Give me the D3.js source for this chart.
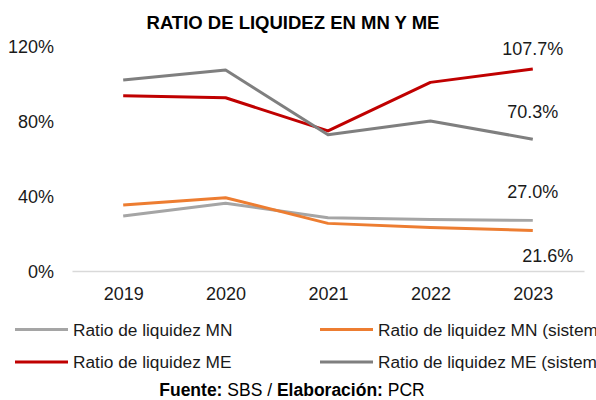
<!DOCTYPE html>
<html>
<head>
<meta charset="utf-8">
<script src="https://cdn.jsdelivr.net/npm/d3@7"></script>
<style>
  html, body { margin: 0; padding: 0; background: #fff; }
  svg { display: block; font-family: "Liberation Sans", Arial, sans-serif; }
</style>
</head>
<body>
<svg id="chart" width="596" height="400"></svg>
<script>
const years = ["2019", "2020", "2021", "2022", "2023"];
const mn = [29.3, 36.1, 28.4, 27.5, 27.0];
const mnSistema = [35.2, 39.1, 25.4, 23.2, 21.6];
const me = [93.5, 92.4, 74.7, 100.6, 107.7];
const meSistema = [101.9, 107.2, 72.7, 80.0, 70.3];
const yTicks = [0, 40, 80, 120];

const seriesNames = ["Ratio de liquidez MN", "Ratio de liquidez MN (sistema)", "Ratio de liquidez ME", "Ratio de liquidez ME (sistema)"];
const seriesColors = ["#A5A5A5", "#ED7D31", "#C00000", "#7F7F7F"];
const seriesValues = [mn, mnSistema, me, meSistema];

const svg = d3.select("#chart");

const x = d3.scalePoint().domain(years).range([72, 584]).padding(0.5);
const y = d3.scaleLinear().domain([0, 120]).range([271, 46]);

// Title
svg.append("text")
  .attr("x", 293).attr("y", 22)
  .attr("text-anchor", "middle").attr("dominant-baseline", "central")
  .style("font-weight", "bold").style("font-size", "18.5px").attr("fill", "#000")
  .text("RATIO DE LIQUIDEZ EN MN Y ME");

// Y axis labels
const yAxis = svg.append("g").attr("transform", "translate(54,0)")
  .call(d3.axisLeft(y).tickValues(yTicks).tickSize(0).tickPadding(0).tickFormat(d => d + "%"));
yAxis.select(".domain").remove();
yAxis.selectAll("text").style("font-size", "18px").attr("fill", "#1a1a1a")
  .attr("font-family", "Liberation Sans, Arial, sans-serif").attr("dy", "0.38em");

// X axis
const xAxis = svg.append("g").attr("transform", `translate(0,${y(0)})`)
  .call(d3.axisBottom(x).tickSize(0).tickSizeOuter(0).tickPadding(0));
xAxis.select(".domain").attr("stroke", "#D9D9D9").attr("stroke-width", 1.5);
xAxis.selectAll("text").style("font-size", "18px").attr("fill", "#1a1a1a")
  .attr("font-family", "Liberation Sans, Arial, sans-serif").attr("y", 23).attr("dy", "0.35em");

// Lines
const line = d3.line().x((d, i) => x(years[i])).y(d => y(d));
seriesValues.forEach((vals, k) => {
  svg.append("path").datum(vals)
    .attr("d", line)
    .attr("fill", "none")
    .attr("stroke", seriesColors[k])
    .attr("stroke-width", 3)
    .attr("stroke-linejoin", "round");
});

// Data labels for last year
const last = years.length - 1;
const labelSpecs = [
  { vals: mn, dx: 0, dy: -28 },
  { vals: mnSistema, dx: 15, dy: 25.5 },
  { vals: me, dx: 0, dy: -20 },
  { vals: meSistema, dx: 0, dy: -27 }
];
labelSpecs.forEach(s => {
  svg.append("text")
    .attr("x", x(years[last]) + s.dx)
    .attr("y", y(s.vals[last]) + s.dy)
    .attr("text-anchor", "middle").attr("dominant-baseline", "central")
    .style("font-size", "18px").attr("fill", "#1a1a1a")
    .text(s.vals[last].toFixed(1) + "%");
});

// Legend
const legendPos = [
  { lx: 15, ty: 329.5 },
  { lx: 320, ty: 329.5 },
  { lx: 15, ty: 362 },
  { lx: 320, ty: 362 }
];
seriesNames.forEach((name, k) => {
  const p = legendPos[k];
  const g = svg.append("g");
  g.append("line").attr("x1", p.lx).attr("x2", p.lx + 53)
    .attr("y1", p.ty).attr("y2", p.ty)
    .attr("stroke", seriesColors[k]).attr("stroke-width", 3);
  g.append("text").attr("x", p.lx + 58).attr("y", p.ty)
    .attr("dominant-baseline", "central")
    .style("font-size", "17.3px").attr("fill", "#1a1a1a")
    .text(name);
});

// Footer
const foot = svg.append("text").attr("x", 292).attr("y", 390)
  .attr("text-anchor", "middle").attr("dominant-baseline", "central")
  .style("font-size", "17.5px").attr("fill", "#000");
foot.append("tspan").style("font-weight", "bold").text("Fuente:");
foot.append("tspan").text(" SBS / ");
foot.append("tspan").style("font-weight", "bold").text("Elaboración:");
foot.append("tspan").text(" PCR");
</script>
</body>
</html>
